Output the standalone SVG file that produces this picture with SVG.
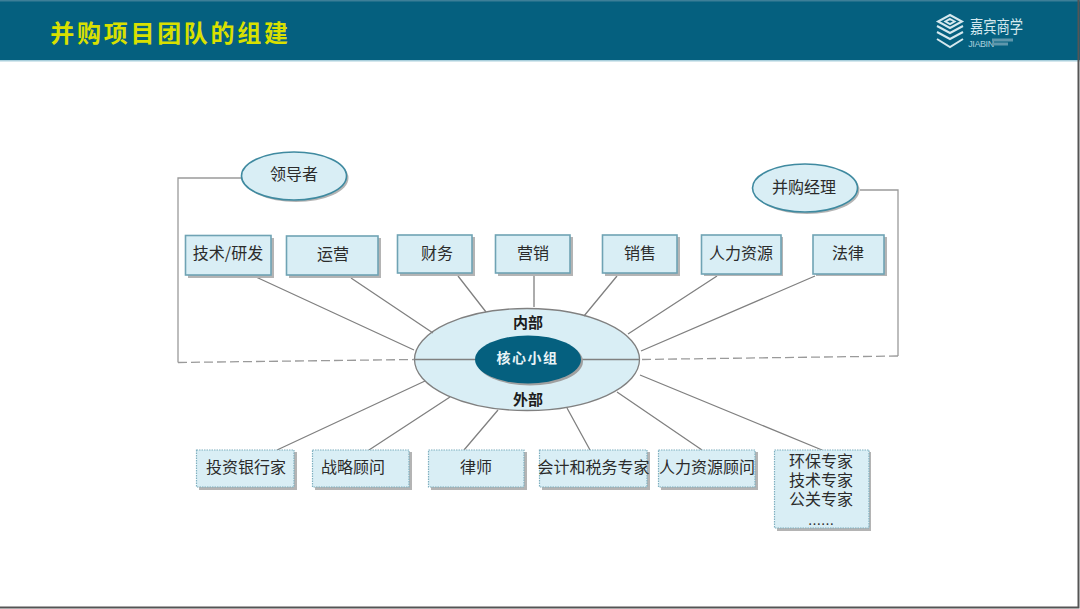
<svg xmlns="http://www.w3.org/2000/svg" width="1080" height="609" viewBox="0 0 1080 609">
<style>
text{font-family:"Noto Sans CJK SC","Liberation Sans",sans-serif;text-anchor:middle}
.l{font-size:16px;fill:#2b2b2b}
.b{fill:#d9eef5;stroke:#6fa3b4;stroke-width:1.6}
.d{fill:#d9eef5;stroke:#7fb0bf;stroke-width:1.2;stroke-dasharray:1.5 1}
.s{fill:#b4b4b4}
.o{fill:#d9eef5;stroke:#3f8aa0;stroke-width:1.6}
.c{fill:none;stroke:#808080;stroke-width:1.3}
.g{fill:none;stroke:#9a9a9a;stroke-width:1.3}
.h{font-size:15px;font-weight:700;fill:#1c1c1c}
.lg{fill:none;stroke:#d5e8ee;stroke-width:2}
</style>
<rect width="1080" height="609" fill="#fff"/>
<g id="header">
<rect width="1080" height="60" fill="#05607f"/>
<rect y="0" width="1080" height="1.5" fill="#3d7f98"/>
<rect y="60" width="1080" height="1.5" fill="#a9cfdc"/>
<text x="170.500" y="41.500" font-size="24" font-weight="700" fill="#d9e000" letter-spacing="2.700">并购项目团队的组建</text>
</g>
<g id="logo">
<path class="lg" d="M950 15L962 21.500L950 28L938 21.500Z M950 19L954.500 21.500L950 24L945.500 21.500Z"/>
<path class="lg" d="M937 26L950 33L963 26M937 32L950 39L963 32M937 39L950 47L963 39" stroke-width="2.200"/>
<text transform="translate(970 33) scale(.78 1)" style="text-anchor:start" font-size="17" fill="#d5e8ee">嘉宾商学</text>
<text x="981" y="46.500" font-size="9" fill="#a9cfdc" letter-spacing="-0.400" style="font-family:'Liberation Sans',sans-serif">JIABIN</text>
<rect x="992" y="38.500" width="21" height="3" fill="#5f97ac"/>
<rect x="992" y="42.500" width="16" height="3" fill="#5f97ac"/>
</g>
<g id="n-center">
<ellipse cx="527" cy="359.500" rx="112.500" ry="51" fill="#d9eef5" stroke="#808080" stroke-width="1.300"/>
<text class="h" x="528" y="328">内部</text>
<text class="h" x="528" y="405">外部</text>
</g>
<g id="connectors">
<path class="g" d="M242 178H178V362.500"/>
<path class="g" stroke-dasharray="9 4" d="M178 362.500L414 359.500"/>
<path class="g" d="M860 190H898V356"/>
<path class="g" stroke-dasharray="9 4" d="M898 356L641 359.500"/>
<path class="c" d="M256 277L414 350M351 278L433 333M458 276L486 312M534 276V307M617 276L584 316M717 276L628 334M815 276L641 351"/>
<path class="c" d="M415 359.500H475M582 359.500H640"/>
<path class="c" d="M425 381L277 450M450 397L369 450M498 410L464 450M567 408L590 450M617 392L702 450M640 375L822 450"/>
</g>
<g id="n-core">
<ellipse cx="530" cy="361.500" rx="53" ry="24" fill="#a0a0a0"/>
<ellipse cx="528" cy="359.500" rx="53" ry="24" fill="#05607f"/>
<text x="527.500" y="363" font-size="14" font-weight="700" fill="#e8f3f6" letter-spacing="1.500">核心小组</text>
</g>
<g id="n-leader">
<ellipse cx="296" cy="178" rx="52.500" ry="24" class="s"/>
<ellipse cx="294" cy="176" rx="52.500" ry="24" class="o"/>
<text class="l" x="294" y="180">领导者</text>
</g>
<g id="n-manager">
<ellipse cx="807" cy="190" rx="52.500" ry="24" class="s"/>
<ellipse cx="805" cy="188" rx="52.500" ry="24" class="o"/>
<text class="l" x="804" y="193">并购经理</text>
</g>
<g id="n-tech"><rect x="188" y="238" width="86" height="40" class="s"/><rect x="185.500" y="235.500" width="85.500" height="39.500" class="b"/><text class="l" x="228" y="259">技术/研发</text></g>
<g id="n-ops"><rect x="289" y="238" width="92" height="40" class="s"/><rect x="286.500" y="236" width="91.500" height="39" class="b"/><text class="l" x="333" y="260">运营</text></g>
<g id="n-fin"><rect x="400" y="237" width="75" height="39" class="s"/><rect x="397.500" y="235" width="74.500" height="38" class="b"/><text class="l" x="437" y="259">财务</text></g>
<g id="n-mkt"><rect x="498" y="237" width="75" height="39" class="s"/><rect x="495.500" y="235" width="74.500" height="38" class="b"/><text class="l" x="533" y="259">营销</text></g>
<g id="n-sales"><rect x="605" y="237" width="75" height="39" class="s"/><rect x="602.500" y="235" width="74.500" height="38" class="b"/><text class="l" x="640" y="259">销售</text></g>
<g id="n-hr"><rect x="704" y="237" width="79" height="39" class="s"/><rect x="701.500" y="235" width="79.500" height="39" class="b"/><text class="l" x="741" y="259">人力资源</text></g>
<g id="n-legal"><rect x="816" y="237" width="71" height="39" class="s"/><rect x="813" y="235" width="71" height="39" class="b"/><text class="l" x="848" y="259">法律</text></g>
<g id="n-ib"><rect x="199" y="452" width="98" height="38" class="s"/><rect x="196.500" y="450" width="97.500" height="37" class="d"/><text class="l" x="246" y="473">投资银行家</text></g>
<g id="n-strat"><rect x="315" y="452" width="97" height="38" class="s"/><rect x="312.500" y="450" width="96.500" height="37" class="d"/><text class="l" x="353" y="473">战略顾问</text></g>
<g id="n-lawyer"><rect x="431" y="452" width="96" height="38" class="s"/><rect x="428.500" y="450" width="95.500" height="37" class="d"/><text class="l" x="476" y="473">律师</text></g>
<g id="n-tax"><rect x="542" y="452" width="108" height="38" class="s"/><rect x="539.500" y="450" width="107.500" height="37" class="d"/><text class="l" x="593.500" y="473">会计和税务专家</text></g>
<g id="n-hrc"><rect x="661" y="452" width="97" height="38" class="s"/><rect x="658.500" y="450" width="96.500" height="37" class="d"/><text class="l" x="707" y="473">人力资源顾问</text></g>
<g id="n-experts"><rect x="777" y="452" width="94" height="79" class="s"/><rect x="774.500" y="450" width="94.500" height="78" class="d"/>
<text class="l" x="821" y="467">环保专家</text><text class="l" x="821" y="486">技术专家</text><text class="l" x="821" y="505">公关专家</text><text class="l" x="821" y="529" style="font-size:13px">……</text></g>
<g id="frame"><path d="M1078.500 0V607.500H0" fill="none" stroke="#555" stroke-width="2"/></g>
</svg>
